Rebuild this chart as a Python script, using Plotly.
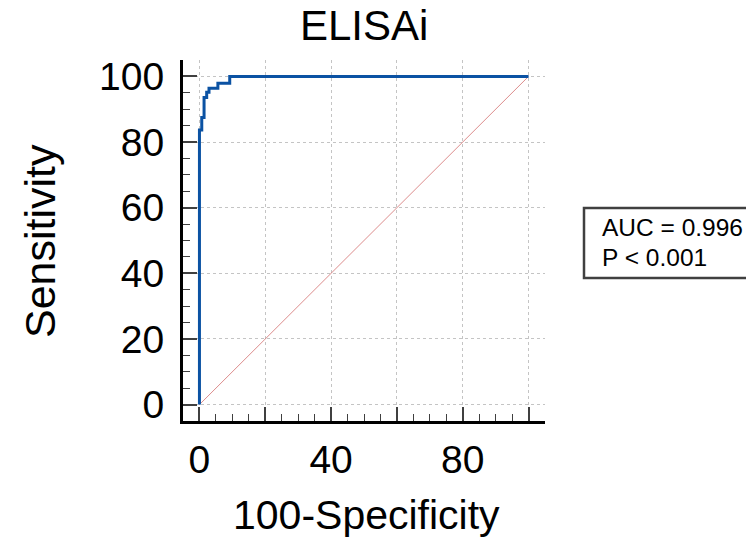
import plotly.graph_objects as go

# ROC curve (100-Specificity vs Sensitivity)
fpr = [0, 0, 0.7, 0.7, 1.4, 1.4, 2.2, 2.2, 2.9, 2.9, 5.6, 5.6, 9.2, 9.2, 100]
tpr = [0, 83.7, 83.7, 87.5, 87.5, 93.6, 93.6, 95.2, 95.2, 96.4, 96.4, 97.9, 97.9, 100, 100]
ref_x = [0, 100]
ref_y = [0, 100]

major_ticks = [0, 20, 40, 60, 80, 100]
x_tick_text = ["0", "", "40", "", "80", ""]
y_tick_text = ["0", "20", "40", "60", "80", "100"]
minor_ticks = [5, 10, 15, 25, 30, 35, 45, 50, 55, 65, 70, 75, 85, 90, 95]

title_text = "ELISAi"
x_title = "100-Specificity"
y_title = "Sensitivity"
stat_lines = ["AUC = 0.996", "P < 0.001"]

OFF = 8  # page body margin
W, H = 754 - OFF, 542 - OFF
L, R, T, B = 183 - OFF, 209, 60 - OFF, 121
PW, PH = W - L - R, H - T - B
FONT = "Arial, Liberation Sans, sans-serif"


def px(xp):
    return (xp - OFF - L) / PW


def py(yp):
    return (H - B - (yp - OFF)) / PH


fig = go.Figure()
fig.add_trace(go.Scatter(x=ref_x, y=ref_y, mode="lines",
                         line=dict(color="rgba(214,120,120,0.85)", width=1),
                         hoverinfo="skip"))
fig.add_trace(go.Scatter(x=fpr, y=tpr, mode="lines",
                         line=dict(color="#0b52a3", width=3),
                         hoverinfo="skip"))

axis_common = dict(
    range=[-5, 105],
    showline=True, linecolor="black", linewidth=3,
    zeroline=False,
    tickmode="array", tickvals=major_ticks,
    ticks="inside", ticklen=14, tickwidth=2, tickcolor="#404040",
    showgrid=True, gridcolor="#c4c4c4", gridwidth=1, griddash="dot",
    tickfont=dict(family=FONT, size=39, color="black"),
    minor=dict(tickmode="array", tickvals=minor_ticks, ticks="inside",
               ticklen=7, tickwidth=1, tickcolor="#404040", showgrid=False),
    fixedrange=True,
)

fig.update_layout(
    width=W, height=H,
    margin=dict(l=L, r=R, t=T, b=B, autoexpand=False),
    paper_bgcolor="white", plot_bgcolor="white",
    showlegend=False,
    xaxis=dict(axis_common, ticktext=x_tick_text, ticklabelstandoff=2),
    yaxis=dict(axis_common, ticktext=y_tick_text, ticklabelstandoff=8),
    font=dict(family=FONT, color="black"),
)

annotations = [
    dict(text=title_text, x=px(364), y=py(25), xref="paper", yref="paper",
         xanchor="center", yanchor="middle", showarrow=False,
         font=dict(family=FONT, size=42, color="black")),
    dict(text=x_title, x=px(366), y=py(515), xref="paper", yref="paper",
         xanchor="center", yanchor="middle", showarrow=False,
         font=dict(family=FONT, size=41, color="black")),
    dict(text=y_title, x=px(40), y=py(241), xref="paper", yref="paper",
         xanchor="center", yanchor="middle", showarrow=False, textangle=-90,
         font=dict(family=FONT, size=43, color="black")),
    dict(text=stat_lines[0], x=px(600), y=py(227), xref="paper", yref="paper",
         xanchor="left", yanchor="middle", showarrow=False,
         font=dict(family=FONT, size=24.5, color="black")),
    dict(text=stat_lines[1], x=px(600), y=py(257), xref="paper", yref="paper",
         xanchor="left", yanchor="middle", showarrow=False,
         font=dict(family=FONT, size=24.5, color="black")),
]
fig.update_layout(annotations=annotations)

fig.add_shape(type="rect", xref="paper", yref="paper",
              x0=px(584), x1=px(752), y0=py(278), y1=py(208),
              line=dict(color="#404040", width=2.5), fillcolor="rgba(0,0,0,0)")

fig.write_html("out.html")
